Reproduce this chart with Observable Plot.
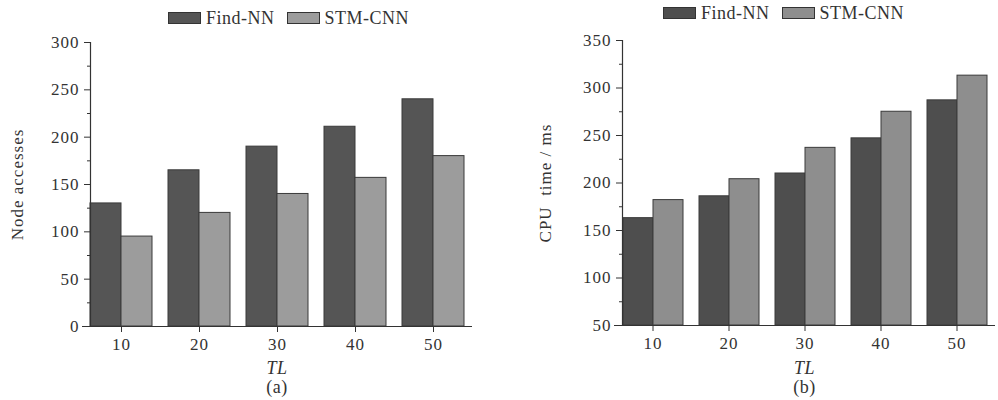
<!DOCTYPE html>
<html><head><meta charset="utf-8">
<script src="https://cdn.jsdelivr.net/npm/d3@7"></script>
<script src="https://cdn.jsdelivr.net/npm/@observablehq/plot@0.6"></script>
<style>
body{margin:0;background:#fff;font-family:"Liberation Serif",serif;color:#333;}
#wrap{position:relative;width:998px;height:400px;overflow:hidden;background:#fff;}
.panel{position:absolute;top:0;width:500px;height:400px;}
.panel svg{position:absolute;left:0;top:0;}
.legend{position:absolute;display:flex;align-items:center;font-size:18px;letter-spacing:0.5px;white-space:nowrap;line-height:1;}
.sw{display:inline-block;width:31px;height:10px;border:1px solid #333;margin-right:5px;}
.cap{position:absolute;transform:translateX(-50%);font-size:18px;letter-spacing:0.5px;line-height:1;white-space:nowrap;}
</style></head><body>
<div id="wrap">
  <div id="pa" class="panel" style="left:0"></div>
  <div id="pb" class="panel" style="left:498px"></div>
</div>
<script>
const TL = [10, 20, 30, 40, 50];
const series = ["Find-NN", "STM-CNN"];
const nodeFind = [130, 165, 190, 211, 240];
const nodeSTM = [95, 120, 140, 157, 180];
const cpuFind = [163, 186, 210, 247, 287];
const cpuSTM = [182, 204, 237, 275, 313];
const yTicksA = [0, 50, 100, 150, 200, 250, 300];
const yMinorA = [25, 75, 125, 175, 225, 275];
const yTicksB = [50, 100, 150, 200, 250, 300, 350];
const yMinorB = [75, 125, 175, 225, 275, 325];

function rowsOf(a, b) {
  return TL.flatMap((t, i) => [
    {tl: t, series: series[0], value: a[i]},
    {tl: t, series: series[1], value: b[i]}
  ]);
}

function panel(el, cfg) {
  const rows = rowsOf(cfg.a, cfg.b);
  const base = cfg.domain[0];
  const chart = Plot.plot({
    width: cfg.width, height: 380,
    marginLeft: cfg.marginLeft, marginRight: cfg.marginRight,
    marginTop: cfg.marginTop, marginBottom: cfg.marginBottom,
    style: {fontFamily: "'Liberation Serif', serif", fontSize: "17px", color: "#333", background: "transparent", letterSpacing: "1px"},
    fx: {domain: TL, paddingInner: 0.2, paddingOuter: 0.1},
    x: {domain: series, padding: 0},
    y: {domain: cfg.domain},
    color: {domain: series, range: cfg.colors},
    marks: [
      Plot.barY(rows, {fx: "tl", x: "series", y1: base, y2: "value", fill: "series", stroke: "#3a3a3a", strokeWidth: 1}),
      Plot.ruleY([base], {stroke: "#333", strokeWidth: 1.2, insetLeft: -8, insetRight: -8}),
      Plot.frame({anchor: "left", facetAnchor: "left", stroke: "#333", strokeWidth: 1.2}),
      Plot.axisY({ticks: cfg.ticks, tickSize: 6, tickPadding: 5, stroke: "#333", fill: "#333",
        label: cfg.ylabel, labelAnchor: "center", labelArrow: "none", labelOffset: cfg.labelOffset}),
      Plot.axisY({ticks: cfg.minor, tickSize: 3, stroke: "#333", fill: "none", label: null}),
      Plot.axisFx({anchor: "bottom", tickSize: 6, tickPadding: 5, stroke: "#333", fill: "#333", label: null}),
      Plot.axisX({ticks: [], label: null})
    ]
  });
  el.appendChild(chart);

  const lg = document.createElement("div");
  lg.className = "legend";
  lg.style.left = cfg.legendLeft + "px";
  lg.style.top = cfg.legendTop + "px";
  series.forEach((s, i) => {
    const sw = document.createElement("span");
    sw.className = "sw";
    sw.style.background = cfg.colors[i];
    const tx = document.createElement("span");
    tx.textContent = s;
    tx.style.marginRight = i === 0 ? "12px" : "0";
    lg.appendChild(sw); lg.appendChild(tx);
  });
  el.appendChild(lg);

  const cx = (cfg.marginLeft + cfg.width - cfg.marginRight) / 2;
  const tl = document.createElement("div");
  tl.className = "cap";
  tl.style.left = cx + "px"; tl.style.top = "359px"; tl.style.fontStyle = "italic";
  tl.textContent = "TL";
  el.appendChild(tl);
  const cap = document.createElement("div");
  cap.className = "cap";
  cap.style.left = cx + "px"; cap.style.top = "378px";
  cap.textContent = cfg.caption;
  el.appendChild(cap);
}

panel(document.getElementById("pa"), {
  a: nodeFind, b: nodeSTM, domain: [0, 300], ticks: yTicksA, minor: yMinorA,
  width: 492, marginLeft: 82, marginRight: 20, marginTop: 42, marginBottom: 54,
  ylabel: "Node accesses", labelOffset: 80,
  colors: ["#555555", "#9c9c9c"], legendLeft: 168, legendTop: 9, caption: "(a)"
});
panel(document.getElementById("pb"), {
  a: cpuFind, b: cpuSTM, domain: [50, 350], ticks: yTicksB, minor: yMinorB,
  width: 500, marginLeft: 115, marginRight: 2, marginTop: 40, marginBottom: 55,
  ylabel: "CPU  time / ms", labelOffset: 84,
  colors: ["#4e4e4e", "#8e8e8e"], legendLeft: 165, legendTop: 4, caption: "(b)"
});
</script>
</body></html>
